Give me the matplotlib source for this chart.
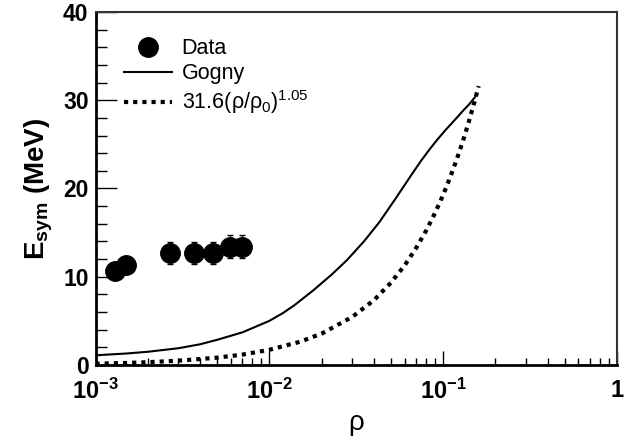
import matplotlib
matplotlib.use("Agg")
import matplotlib.pyplot as plt
import numpy as np
from matplotlib.lines import Line2D
from matplotlib.ticker import FixedLocator, NullFormatter, LogLocator

plt.rcParams['font.family'] = ['Liberation Sans', 'DejaVu Sans']
plt.rcParams['mathtext.fontset'] = 'custom'
plt.rcParams['mathtext.rm'] = 'Liberation Sans'
plt.rcParams['mathtext.it'] = 'Liberation Sans'
plt.rcParams['mathtext.bf'] = 'Liberation Sans:bold'

# data points
rho_data = [1.29e-3, 1.50e-3, 2.68e-3, 3.70e-3, 4.75e-3, 5.93e-3, 6.92e-3]
esym_data = [10.7, 11.3, 12.7, 12.7, 12.7, 13.4, 13.4]
esym_err = [0.6, 0.6, 1.2, 1.2, 1.2, 1.3, 1.3]

rho_gogny = [1e-3, 1.5e-3, 2e-3, 3e-3, 4e-3, 5e-3, 7e-3, 1e-2, 1.2e-2, 1.4e-2,
             1.8e-2, 2.3e-2, 2.8e-2, 3.5e-2, 4.3e-2, 5.3e-2, 6.7e-2, 7.5e-2,
             8.4e-2, 9.4e-2, 0.104, 0.117, 0.13, 0.142, 0.153]
esym_gogny = [1.1, 1.3, 1.5, 1.9, 2.35, 2.85, 3.7, 5.0, 5.9, 6.8,
              8.5, 10.3, 11.9, 14.0, 16.2, 18.8, 21.8, 23.2,
              24.5, 25.7, 26.7, 27.8, 28.8, 29.6, 30.4]

rho_fit = [1e-3, 1.5e-3, 2e-3, 3e-3, 5e-3, 7e-3, 1e-2, 1.5e-2, 2e-2, 3e-2,
           4e-2, 5e-2, 6e-2, 7e-2, 8e-2, 9e-2, 0.1, 0.11, 0.12, 0.13,
           0.14, 0.15, 0.16]
esym_fit = [0.15, 0.23, 0.32, 0.49, 0.83, 1.18, 1.72, 2.63, 3.56, 5.45,
            7.35, 9.32, 11.28, 13.27, 15.26, 17.27, 19.29, 21.32, 23.36, 25.4,
            27.47, 29.53, 31.6]

fig = plt.figure(figsize=(6.36, 4.37), dpi=100)
ax = fig.add_axes([95.5/636, (437-365)/437, (617-95.5)/636, (365-12)/437])

ax.errorbar(rho_data, esym_data, yerr=esym_err, fmt='o', color='black',
            markersize=14, elinewidth=1, capsize=2)
ax.plot(rho_gogny, esym_gogny, '-', color='black', lw=1.5)
ax.plot(rho_fit, esym_fit, color='black', lw=3, linestyle=(0, (1, 1.2)))

ax.set_xscale('log')
ax.set_xlim(1e-3, 1)
ax.set_ylim(0, 40)

ax.xaxis.set_major_locator(FixedLocator([1e-3, 1e-2, 1e-1, 1]))
ax.set_xticklabels([r'$\mathbf{10^{-3}}$', r'$\mathbf{10^{-2}}$',
                    r'$\mathbf{10^{-1}}$', '1'], fontsize=17, fontweight='bold')
ax.xaxis.set_minor_locator(LogLocator(base=10, subs=np.arange(2, 10)))
ax.xaxis.set_minor_formatter(NullFormatter())

ax.set_yticks([0, 10, 20, 30, 40])
ax.set_yticklabels(['0', '10', '20', '30', '40'], fontsize=16.5, fontweight='bold')
ax.set_yticks(np.arange(0, 41, 2), minor=True)

ax.tick_params(axis='y', which='major', direction='in', length=15, width=1, pad=5, left=True, right=False)
ax.tick_params(axis='y', which='minor', direction='in', length=8, width=1, left=True, right=False)
ax.tick_params(axis='x', which='major', direction='in', length=10, width=1, pad=10, top=False)
ax.tick_params(axis='x', which='minor', direction='in', length=5, width=1, top=False)

for s in ['left', 'bottom']:
    ax.spines[s].set_linewidth(2)
for s in ['top', 'right']:
    ax.spines[s].set_linewidth(1.5)
    ax.spines[s].set_color('#333333')

ax.set_ylabel(r'E$_{\mathbf{sym}}$ (MeV)', fontsize=20, fontweight='bold', labelpad=6)
ax.set_xlabel('ρ', fontsize=20, labelpad=4)

handles = [
    Line2D([], [], marker='o', color='black', markersize=14, linestyle='none'),
    Line2D([], [], color='black', lw=1.5),
    Line2D([], [], color='black', lw=3, linestyle=(0, (1, 1.2))),
]
labels = ['Data', 'Gogny', '31.6(ρ/ρ$_0$)$^{1.05}$']
ax.legend(handles, labels, loc='upper left', bbox_to_anchor=(0.055, 0.925),
          frameon=False, fontsize=15.5, handlelength=2.2, handletextpad=0.47,
          labelspacing=0.18, borderaxespad=0, borderpad=0)

fig.savefig('out.png', dpi=100)
